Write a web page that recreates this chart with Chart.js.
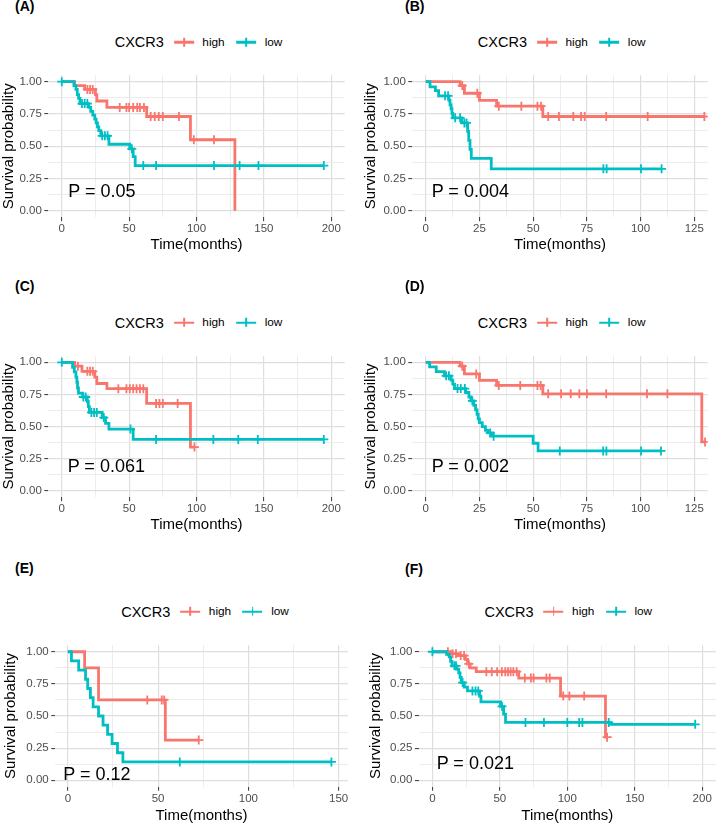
<!DOCTYPE html>
<html><head><meta charset="utf-8">
<script src="https://cdn.jsdelivr.net/npm/chart.js@4.4.1/dist/chart.umd.min.js"></script>
<style>
html,body{margin:0;padding:0;background:#fff;overflow:hidden;width:720px;height:825px}
body{position:relative;font-family:"Liberation Sans",Arial,Helvetica,sans-serif}
canvas{position:absolute;display:block}
.txt{position:absolute;white-space:nowrap;line-height:1;color:#000}
.lab{font-weight:bold;font-size:14px}
.pv{font-size:18px}
.legend{position:absolute;display:flex;align-items:center;white-space:nowrap;transform:translate(-50%,-50%);line-height:1;color:#000}
.legend .lt{font-size:14.5px;margin-right:10px}
.legend .li{font-size:11.8px}
.legend .key{position:relative;display:inline-block;width:20px;height:10px;margin-right:8.5px}
.legend .key::before{content:"";position:absolute;left:0;right:0;top:50%;height:2.8px;margin-top:-1.4px;background:var(--c)}
.legend .key::after{content:"";position:absolute;left:50%;width:1.8px;margin-left:-0.9px;top:0.5px;bottom:0.5px;background:var(--c)}
</style></head><body>
<script>
// ---------- data ----------
const legendTitle = 'CXCR3';
const groupNames = ['high', 'low'];
const groupColors = ['#F8766D', '#00BFC4'];
const panelLabels = ['(A)', '(B)', '(C)', '(D)', '(E)', '(F)'];
const pTexts = ['P = 0.05', 'P = 0.004', 'P = 0.061', 'P = 0.002', 'P = 0.12', 'P = 0.021'];
const yAxisTitle = 'Survival probability';
const xAxisTitle = 'Time(months)';
const yTickValues = [0, 0.25, 0.5, 0.75, 1];
const yTickLabels = ['0.00', '0.25', '0.50', '0.75', '1.00'];
const xTicks200 = [0, 50, 100, 150, 200];
const xTickLabels200 = ['0', '50', '100', '150', '200'];
const xTicks125 = [0, 25, 50, 75, 100, 125];
const xTickLabels125 = ['0', '25', '50', '75', '100', '125'];
const xTicks150 = [0, 50, 100, 150];
const xTickLabels150 = ['0', '50', '100', '150'];

// Panel A  (step points [time, survival]; censor times)
const aHighSteps = [[0,1],[9.5,0.97],[17,0.94],[25,0.90],[26,0.85],[33.5,0.80],[63,0.73],[95.5,0.55],[128.5,0]];
const aHighCensor = [19,21,23,43,48,50,53,56,58,61,66,69,72,75,87,98,113];
const aLowSteps = [[0,1],[9,0.97],[10.5,0.94],[11.5,0.90],[12.5,0.87],[13.5,0.83],[20,0.80],[21.5,0.77],[23,0.74],[24.5,0.71],[25.5,0.68],[26.5,0.65],[27.5,0.62],[29,0.58],[35,0.515],[50.5,0.48],[53,0.42],[54.5,0.35]];
const aLowCensor = [0,15,17,19,30,32,34,52,60.5,70,113,132,146,194.5];

// Panel B
const bHighSteps = [[0,1],[16,0.97],[18,0.91],[25,0.855],[33,0.81],[54.5,0.73]];
const bHighCensor = [17,24,34,44.5,52,53.7,57,62,68.7,72.3,74,84,103.3,129.7];
const bLowSteps = [[0,1],[2,0.96],[4.5,0.93],[6,0.89],[10.8,0.855],[11.3,0.82],[11.8,0.79],[12.2,0.755],[12.6,0.72],[16.8,0.68],[19.5,0.615],[20,0.545],[20.6,0.475],[21.2,0.405],[30.5,0.325]];
const bLowCensor = [9,10.4,13.7,16,18,19,82.7,84.2,100.2,109.8];

// Panel C
const cHighSteps = [[0,1],[9.5,0.97],[15,0.93],[24.5,0.885],[26,0.835],[33.5,0.795],[63,0.68],[95.5,0.34]];
const cHighCensor = [12,19,21,23,42,48,50.5,53,55.5,58,60.5,70,72.5,75,86,98.5];
const cLowSteps = [[0,1],[8,0.96],[9.3,0.925],[10.5,0.885],[11.2,0.845],[11.7,0.80],[12.4,0.76],[15.5,0.73],[19,0.695],[19.7,0.655],[20.5,0.61],[30,0.57],[32.5,0.525],[35,0.48],[53,0.40]];
const cLowCensor = [0,16,17.8,22,24,26,31.2,51,70,112.5,131,145.5,194.5];

// Panel D
const dHighSteps = [[0,1],[16,0.97],[18,0.91],[25,0.86],[33,0.82],[54.5,0.755],[128.5,0.38]];
const dHighCensor = [17,23.5,34,44,52,53.5,57,63,67.5,71.5,75,84,103,112.5,130];
const dLowSteps = [[0,1],[1.8,0.965],[4.9,0.928],[8.7,0.895],[11.8,0.862],[12.6,0.83],[13.4,0.796],[18.6,0.765],[20.1,0.73],[21,0.70],[22.4,0.665],[23.2,0.63],[23.9,0.595],[24.4,0.56],[25,0.53],[26.3,0.50],[27.8,0.47],[29,0.45],[31,0.425],[50,0.37],[52.3,0.31]];
const dLowCensor = [9.5,10.8,14.8,16.3,18.2,21.7,30,31.6,62.4,82.6,84.1,100.2,109.5];

// Panel E
const eHighSteps = [[0,1],[9.3,0.875],[17,0.625],[54,0.3125]];
const eHighCensor = [44,52,53.3,72.5];
const eLowSteps = [[0,1],[2,0.929],[6,0.857],[9.8,0.786],[11,0.714],[12.5,0.643],[14,0.571],[17,0.5],[19.5,0.429],[22,0.357],[24.5,0.286],[27.5,0.214],[30.5,0.143]];
const eLowCensor = [62,146];

// Panel F
const fHighSteps = [[0,1],[13.5,0.985],[19,0.97],[24.5,0.94],[26,0.905],[28,0.875],[32.5,0.845],[64,0.795],[95,0.655],[128.3,0.335]];
const fHighCensor = [11.5,15,17.5,21,23.5,27,40,44,48,51.5,54,56,58,60,62.5,68.5,73,75,84.5,87,97,101.5,112.5,129.5];
const fLowSteps = [[0,1],[10.5,0.98],[12.5,0.96],[13.5,0.925],[14.5,0.89],[18,0.865],[19.5,0.835],[20.5,0.80],[21.4,0.76],[23.6,0.725],[26,0.695],[35,0.655],[36,0.61],[50.5,0.575],[52.8,0.515],[54.2,0.45],[132,0.435]];
const fLowCensor = [0,16.3,17.5,22.4,29.7,32,34,51.6,69,82.7,100,108.8,111.2,130.7,194.8];

// ---------- layout (page coordinates) ----------
const FONT = '"Liberation Sans", Arial, Helvetica, sans-serif';
const panels = [
  {groups:[[aHighSteps,aHighCensor],[aLowSteps,aLowCensor]], xt:xTicks200, xl:xTickLabels200, xMin:-10, xMax:210,
   px:0, L:48.3, R:349.7, T:75.2, B:217.2, xTitleY:245, yTitleX:9.2, lab:[15,10.4], leg:[198.5,42.3], pv:[68.3,197.3]},
  {groups:[[bHighSteps,bHighCensor],[bLowSteps,bLowCensor]], xt:xTicks125, xl:xTickLabels125, xMin:-6.25, xMax:131.25,
   px:360, L:412.3, R:712.7, T:75.2, B:217.2, xTitleY:245, yTitleX:370.8, lab:[405,10.4], leg:[561.7,42.3], pv:[431.7,197.3]},
  {groups:[[cHighSteps,cHighCensor],[cLowSteps,cLowCensor]], xt:xTicks200, xl:xTickLabels200, xMin:-10, xMax:210,
   px:0, L:48.3, R:349.7, T:355.9, B:497.2, xTitleY:525, yTitleX:9.2, lab:[15,290.4], leg:[198.5,322.7], pv:[67.7,472.7]},
  {groups:[[dHighSteps,dHighCensor],[dLowSteps,dLowCensor]], xt:xTicks125, xl:xTickLabels125, xMin:-6.25, xMax:131.25,
   px:360, L:412.3, R:712.7, T:355.9, B:497.2, xTitleY:525, yTitleX:370.8, lab:[405,290.4], leg:[561.7,322.7], pv:[431.7,472.7]},
  {groups:[[eHighSteps,eHighCensor],[eLowSteps,eLowCensor]], xt:xTicks150, xl:xTickLabels150, xMin:-7, xMax:155,
   px:0, L:55.2, R:352.1, T:645.3, B:786.7, xTitleY:816, yTitleX:10.8, lab:[15,573], leg:[205,611.7], pv:[63.3,780.3]},
  {groups:[[fHighSteps,fHighCensor],[fLowSteps,fLowCensor]], xt:xTicks200, xl:xTickLabels200, xMin:-10, xMax:210,
   px:360, L:418.9, R:720.3, T:645.3, B:786.7, xTitleY:816, yTitleX:375.8, lab:[405,573.5], leg:[568.3,611.7], pv:[436.7,769]}
];

function survAt(steps, t) {
  let s = steps[0][1];
  for (const [tt, v] of steps) { if (tt <= t) s = v; else break; }
  return s;
}
function lineData(steps, cens) {
  const pts = steps.map(([x, y]) => ({x, y}));
  const last = steps[steps.length - 1];
  const maxC = Math.max(...cens);
  if (maxC > last[0]) pts.push({x: maxC, y: last[1]});
  return pts;
}
function withMinor(major, min, max) {
  const step = major[1] - major[0];
  const out = major.filter(v => v >= min && v <= max);
  for (let v = major[0] - step / 2; v <= max; v += step) if (v >= min) out.push(v);
  return out.sort((a, b) => a - b);
}
function addText(cls, text, x, baseline, size) {
  const d = document.createElement('div');
  d.className = 'txt ' + cls;
  d.textContent = text;
  d.style.left = x + 'px';
  d.style.top = (baseline - 0.8465 * size) + 'px';
  document.body.appendChild(d);
}

panels.forEach((p, idx) => {
  const cTop = Math.floor(p.T) - 14;
  const padTop = p.T - cTop;
  const cBottom = Math.round(p.xTitleY + 9);
  const cw = Math.ceil(p.R - p.px) + 1;
  const ch = cBottom - cTop;
  const yW = p.L - p.px;
  const xH = cBottom - p.B;
  const padRight = cw - (p.R - p.px);

  const canvas = document.createElement('canvas');
  canvas.width = cw; canvas.height = ch;
  canvas.style.left = p.px + 'px'; canvas.style.top = cTop + 'px';
  canvas.style.width = cw + 'px'; canvas.style.height = ch + 'px';
  document.body.appendChild(canvas);

  const xAll = withMinor(p.xt, p.xMin, p.xMax);
  const yAll = withMinor(yTickValues, -0.05, 1.05);

  const datasets = [];
  // low first so it is drawn on top
  [1, 0].forEach(g => {
    const [steps, cens] = p.groups[g];
    const col = groupColors[g];
    datasets.push({
      label: groupNames[g] + ' censor',
      data: cens.map(t => ({x: t, y: survAt(steps, t)})),
      showLine: false, pointStyle: 'cross', pointRadius: 4.5, pointBorderWidth: 1.8,
      pointBorderColor: col, pointBackgroundColor: col, borderColor: col
    });
    datasets.push({
      label: groupNames[g],
      data: lineData(steps, cens),
      stepped: 'before', borderColor: col, borderWidth: 2.8, pointRadius: 0,
      fill: false, tension: 0
    });
  });

  const majorX = new Set(p.xt), majorY = new Set(yTickValues);
  const gridFor = (majorSet) => ({
    color: c => majorSet.has(c.tick && c.tick.value) ? '#dedede' : '#ebebeb',
    lineWidth: c => majorSet.has(c.tick && c.tick.value) ? 1.2 : 0.9,
    tickColor: c => majorSet.has(c.tick && c.tick.value) ? '#333333' : 'rgba(0,0,0,0)',
    tickWidth: 1, tickLength: 4, drawTicks: true
  });
  const zeroPad = s => { s.paddingLeft = 0; s.paddingRight = 0; s.paddingTop = 0; s.paddingBottom = 0; };

  new Chart(canvas, {
    type: 'line',
    data: {datasets},
    options: {
      responsive: false, animation: false, devicePixelRatio: 1, events: [],
      layout: {padding: {top: padTop, left: 0, right: padRight, bottom: 0}},
      plugins: {legend: {display: false}, tooltip: {enabled: false}, title: {display: false}},
      scales: {
        x: {
          type: 'linear', min: p.xMin, max: p.xMax, border: {display: false},
          afterBuildTicks: s => { s.ticks = xAll.map(v => ({value: v})); },
          afterFit: s => { s.height = xH; zeroPad(s); },
          ticks: {autoSkip: false, maxRotation: 0, minRotation: 0, padding: 1, color: '#4d4d4d',
                  font: {family: FONT, size: 11.5},
                  callback: v => { const i = p.xt.indexOf(v); return i >= 0 ? p.xl[i] : ''; }},
          grid: gridFor(majorX),
          title: {display: true, text: xAxisTitle, color: '#000', font: {family: FONT, size: 15}, padding: 0}
        },
        y: {
          type: 'linear', min: -0.05, max: 1.05, border: {display: false},
          afterBuildTicks: s => { s.ticks = yAll.map(v => ({value: v})); },
          afterFit: s => { s.width = yW; zeroPad(s); },
          ticks: {autoSkip: false, padding: 2.5, color: '#4d4d4d',
                  font: {family: FONT, size: 11.5},
                  callback: v => { const i = yTickValues.indexOf(v); return i >= 0 ? yTickLabels[i] : ''; }},
          grid: gridFor(majorY),
          title: {display: true, text: yAxisTitle, color: '#000', font: {family: FONT, size: 15},
                  padding: {top: Math.max(0, p.yTitleX - p.px - 9), bottom: 0}}
        }
      }
    }
  });

  addText('lab', panelLabels[idx], p.lab[0], p.lab[1], 14);
  addText('pv', pTexts[idx], p.pv[0], p.pv[1], 18);

  const leg = document.createElement('div');
  leg.className = 'legend';
  leg.style.left = p.leg[0] + 'px';
  leg.style.top = p.leg[1] + 'px';
  let html = '<span class="lt">' + legendTitle + '</span>';
  groupNames.forEach((g, i) => {
    html += '<span class="key" style="--c:' + groupColors[i] + '"></span>' +
            '<span class="li" style="margin-right:' + (i === 0 ? 11.5 : 0) + 'px">' + g + '</span>';
  });
  leg.innerHTML = html;
  document.body.appendChild(leg);
});
</script>
</body></html>
